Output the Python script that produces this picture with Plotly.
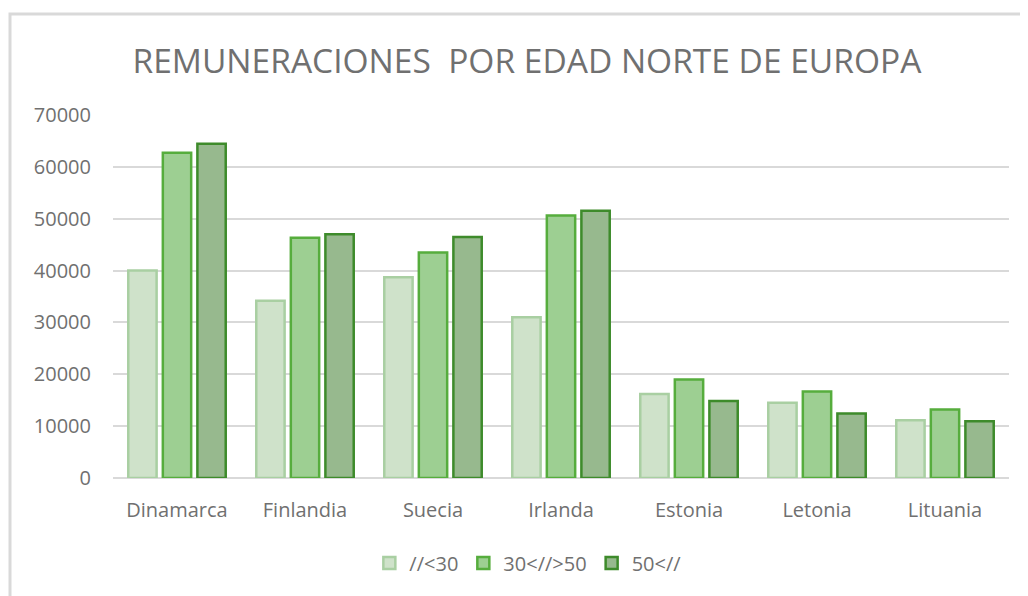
import plotly.graph_objects as go

categories = ["Dinamarca", "Finlandia", "Suecia", "Irlanda", "Estonia", "Letonia", "Lituania"]
series_names = ["//<30", "30<//>50", "50<//"]
menos_30 = [40000, 34200, 38700, 31000, 16200, 14500, 11150]
entre_30_50 = [62700, 46350, 43500, 50600, 19000, 16700, 13200]
mas_50 = [64450, 47000, 46450, 51550, 14850, 12450, 10950]
y_ticks = [0, 10000, 20000, 30000, 40000, 50000, 60000, 70000]
y_tick_labels = ["0", "10000", "20000", "30000", "40000", "50000", "60000", "70000"]

fills = ["#cfe2ca", "#9dcf92", "#97b98e"]
borders = ["#a9cfa2", "#56ad3d", "#3e8b2b"]

fig = go.Figure()
for name, vals, fc, bc in zip(series_names, [menos_30, entre_30_50, mas_50], fills, borders):
    fig.add_trace(go.Bar(
        x=categories, y=vals, name=name,
        marker=dict(color=fc, line=dict(color=bc, width=2.5)),
    ))

L, T, PW, PH = 105, 107, 896, 363
W, H = 1028, 596
grey = "#707070"
fig.update_layout(
    width=W, height=H,
    margin=dict(l=L, r=W - L - PW, t=T, b=H - T - PH, autoexpand=False),
    paper_bgcolor="white", plot_bgcolor="white",
    barmode="group", bargap=0.19, bargroupgap=0.18,
    title=dict(text="REMUNERACIONES  POR EDAD NORTE DE EUROPA",
               font=dict(family="Open Sans", size=33.5, color=grey),
               x=0.462, xanchor="center", y=(H - 53) / H, yanchor="middle", xref="paper"),
    font=dict(family="Open Sans", size=20, color=grey),
    showlegend=True,
    legend=dict(orientation="h", x=0.463, xanchor="center", y=-0.234, yanchor="middle",
                font=dict(family="Open Sans", size=20, color=grey),
                itemwidth=30, traceorder="normal"),
    xaxis=dict(showgrid=False, showline=False, ticks="", automargin=False,
               tickfont=dict(size=20, color=grey), ticklabelstandoff=18),
    yaxis=dict(range=[0, 70000], tickvals=y_ticks, ticktext=y_tick_labels, showgrid=True,
               gridcolor="#d9d9d9", gridwidth=2, zeroline=True, zerolinecolor="#d9d9d9",
               zerolinewidth=2, showline=False, ticks="", automargin=False,
               tickfont=dict(size=20, color=grey), ticklabelstandoff=21),
)

# chart-area border (page has an 8px body offset)
bx0, by0 = 2, 6
fig.add_shape(type="rect", xref="paper", yref="paper",
              x0=(bx0 - L) / PW, x1=(W + 20 - L) / PW,
              y0=(T + PH - (H + 20)) / PH, y1=(T + PH - by0) / PH,
              line=dict(color="#d9d9d9", width=3), fillcolor="rgba(0,0,0,0)", layer="below")

fig.write_html("out.html")
